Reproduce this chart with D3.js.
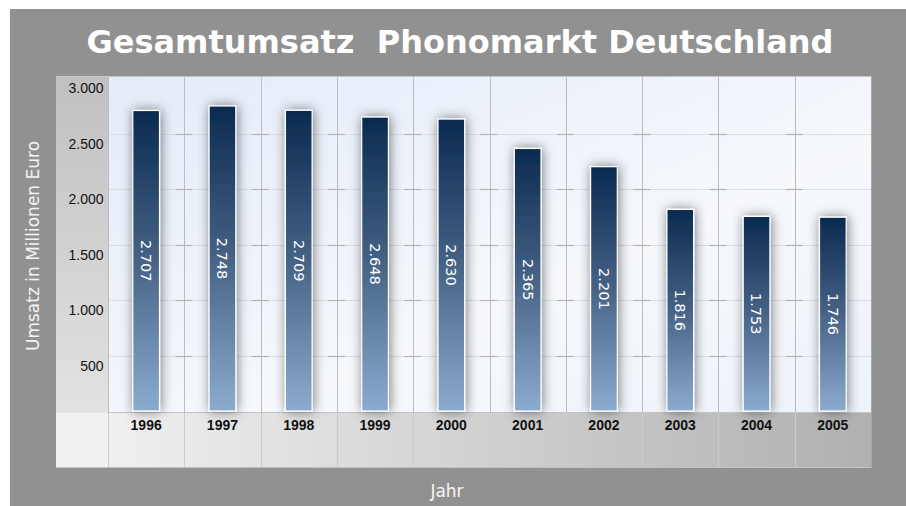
<!DOCTYPE html>
<html><head><meta charset="utf-8">
<script src="https://cdn.jsdelivr.net/npm/d3@7"></script>
<style>html,body{margin:0;padding:0;background:#fff;}svg{display:block;}</style>
</head><body>
<script>
const years = ["1996","1997","1998","1999","2000","2001","2002","2003","2004","2005"];
const values = [2707,2748,2709,2648,2630,2365,2201,1816,1753,1746];
const valueLabels = ["2.707","2.748","2.709","2.648","2.630","2.365","2.201","1.816","1.753","1.746"];
const yTicks = [500,1000,1500,2000,2500,3000];
const yTickLabels = ["500","1.000","1.500","2.000","2.500","3.000"];
const title = "Gesamtumsatz\u00a0\u00a0Phonomarkt Deutschland";
const yTitle = "Umsatz in Millionen Euro";
const xTitle = "Jahr";

const W = 906, H = 506;
const svg = d3.select("body").append("svg").attr("width", W).attr("height", H);
const defs = svg.append("defs");

const outer = {x0:10, y0:9, x1:906, y1:506};
const plot = {x0:108, x1:871, y0:76, y1:413};
const panelX0 = 56, bandY1 = 468;

const bg = defs.append("linearGradient").attr("id","bg").attr("x1","0").attr("y1","0").attr("x2","1").attr("y2","1");
bg.append("stop").attr("offset","0").attr("stop-color","#e3ecf8");
bg.append("stop").attr("offset","0.6").attr("stop-color","#f6f8fc");
bg.append("stop").attr("offset","1").attr("stop-color","#eef3fa");

const lp = defs.append("linearGradient").attr("id","lp").attr("x1","0").attr("y1","0").attr("x2","0").attr("y2","1");
lp.append("stop").attr("offset","0").attr("stop-color","#c0c0c0");
lp.append("stop").attr("offset","1").attr("stop-color","#e2e2e2");

const xb = defs.append("linearGradient").attr("id","xb").attr("x1","0").attr("y1","0").attr("x2","1").attr("y2","0");
xb.append("stop").attr("offset","0").attr("stop-color","#f4f4f4");
xb.append("stop").attr("offset","1").attr("stop-color","#b0b0b0");

const barG = defs.append("linearGradient").attr("id","barG").attr("x1","0").attr("y1","0").attr("x2","0").attr("y2","1");
barG.append("stop").attr("offset","0").attr("stop-color","#0a2a4f");
barG.append("stop").attr("offset","0.5").attr("stop-color","#466386");
barG.append("stop").attr("offset","1").attr("stop-color","#8babcf");

const sh = defs.append("filter").attr("id","sh").attr("x","-100%").attr("y","-20%").attr("width","300%").attr("height","140%");
sh.append("feDropShadow").attr("dx",1).attr("dy",0).attr("stdDeviation",6).attr("flood-color","#000").attr("flood-opacity",0.5);

svg.append("rect").attr("x",outer.x0).attr("y",outer.y0).attr("width",outer.x1-outer.x0).attr("height",outer.y1-outer.y0).attr("fill","#919191");

const x = d3.scaleBand().domain(years).range([plot.x0, plot.x1]).padding(0);
const y = d3.scaleLinear().domain([0,3000]).range([411, 78]);

svg.append("rect").attr("x",panelX0).attr("y",plot.y0).attr("width",plot.x0-panelX0).attr("height",plot.y1-plot.y0).attr("fill","url(#lp)");
svg.append("rect").attr("x",panelX0).attr("y",plot.y1).attr("width",plot.x1-panelX0).attr("height",bandY1-plot.y1).attr("fill","url(#xb)");
svg.append("rect").attr("x",panelX0).attr("y",plot.y1).attr("width",plot.x0-panelX0).attr("height",bandY1-plot.y1).attr("fill","#f1f1f1");

svg.append("rect").attr("x",plot.x0).attr("y",plot.y0).attr("width",plot.x1-plot.x0).attr("height",plot.y1-plot.y0).attr("fill","url(#bg)");

svg.append("g").selectAll("line").data(yTicks.slice(0,-1)).join("line")
  .attr("x1",plot.x0).attr("x2",plot.x1)
  .attr("y1",d=>Math.round(y(d))+0.5).attr("y2",d=>Math.round(y(d))+0.5)
  .attr("stroke","#dadde2").attr("stroke-width",1);

const seps = years.map(d=>x(d)).concat([plot.x1]);
svg.append("g").selectAll("line").data(seps).join("line")
  .attr("x1",d=>Math.round(d)+0.5).attr("x2",d=>Math.round(d)+0.5)
  .attr("y1",plot.y0).attr("y2",plot.y1)
  .attr("stroke","#bdbdbd").attr("stroke-width",1);
svg.append("g").selectAll("line").data(seps).join("line")
  .attr("x1",d=>Math.round(d)+0.5).attr("x2",d=>Math.round(d)+0.5)
  .attr("y1",plot.y1).attr("y2",bandY1)
  .attr("stroke","#cbcbcb").attr("stroke-width",1);

const dashData = [];
seps.slice(1,-1).forEach(s=>yTicks.slice(0,-1).forEach(t=>dashData.push([s,t])));
svg.append("g").selectAll("line").data(dashData).join("line")
  .attr("x1",d=>d[0]-9).attr("x2",d=>d[0]+8)
  .attr("y1",d=>Math.round(y(d[1]))+0.5).attr("y2",d=>Math.round(y(d[1]))+0.5)
  .attr("stroke","#b4b4b4").attr("stroke-width",1.2);

svg.append("line").attr("x1",panelX0).attr("x2",plot.x1).attr("y1",plot.y0+0.5).attr("y2",plot.y0+0.5).attr("stroke","#c8c8c8");
svg.append("line").attr("x1",plot.x1+0.5).attr("x2",plot.x1+0.5).attr("y1",plot.y0).attr("y2",bandY1).attr("stroke","#a8a8a8");
svg.append("line").attr("x1",plot.x0).attr("x2",plot.x1).attr("y1",plot.y1-0.5).attr("y2",plot.y1-0.5).attr("stroke","#c4c4c4");
svg.append("line").attr("x1",panelX0).attr("x2",plot.x1).attr("y1",bandY1-0.5).attr("y2",bandY1-0.5).attr("stroke","#c2c2c2");

const bw = x.bandwidth()*0.35;
svg.append("g").selectAll("rect").data(values).join("rect")
  .attr("x",(d,i)=>x(years[i])+x.bandwidth()/2-bw/2)
  .attr("y",d=>y(d))
  .attr("width",bw)
  .attr("height",d=>y(0)-y(d))
  .attr("fill","url(#barG)")
  .attr("stroke","#ffffff").attr("stroke-width",1.2)
  .attr("filter","url(#sh)");

svg.append("g").selectAll("text").data(values).join("text")
  .attr("transform",(d,i)=>`translate(${x(years[i])+x.bandwidth()/2},${(y(d)+y(0))/2}) rotate(90)`)
  .attr("text-anchor","middle").attr("dy","0.35em")
  .attr("font-family","DejaVu Sans").attr("font-size",14.5).attr("fill","#ffffff")
  .text((d,i)=>valueLabels[i]);

svg.append("g").selectAll("text").data(yTicks).join("text")
  .attr("x",103.5).attr("y",d=>y(d)+15)
  .attr("text-anchor","end")
  .attr("font-family","Liberation Sans, Arial").attr("font-size",14).attr("fill","#111")
  .text((d,i)=>yTickLabels[i]);

svg.append("g").selectAll("text").data(years).join("text")
  .attr("x",d=>x(d)+x.bandwidth()/2).attr("y",430)
  .attr("text-anchor","middle")
  .attr("font-family","Liberation Sans, Arial").attr("font-weight","bold").attr("font-size",14).attr("fill","#111")
  .text(d=>d);

svg.append("text").attr("x",460).attr("y",53).attr("text-anchor","middle")
  .attr("font-family","DejaVu Sans").attr("font-weight","bold").attr("font-size",32).attr("fill","#ffffff")
  .text(title);

svg.append("text").attr("transform","translate(39,246) rotate(-90)").attr("text-anchor","middle")
  .attr("font-family","DejaVu Sans").attr("font-size",17).attr("fill","#f4f4f4")
  .text(yTitle);
svg.append("text").attr("x",447).attr("y",497).attr("text-anchor","middle")
  .attr("font-family","DejaVu Sans").attr("font-size",17).attr("fill","#f4f4f4")
  .text(xTitle);
</script>
</body></html>
